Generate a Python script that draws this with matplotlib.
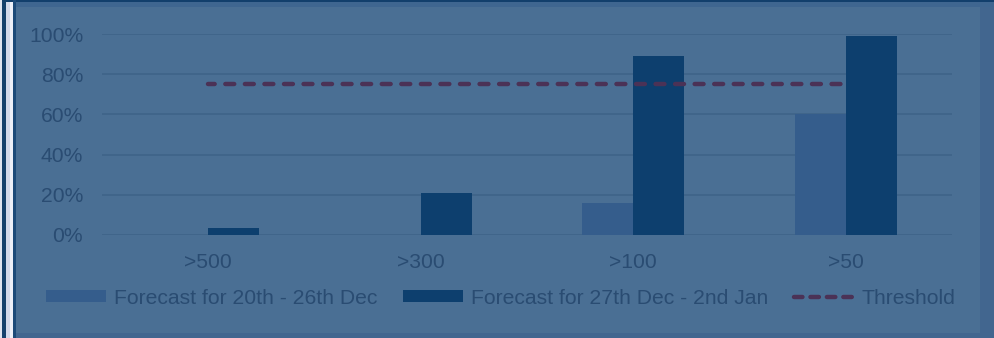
import matplotlib
matplotlib.use('Agg')
import matplotlib.pyplot as plt
from matplotlib.patches import Rectangle, Patch
from matplotlib.lines import Line2D
import numpy as np

# Data
categories = ['>500', '>300', '>100', '>50']
forecast_20_26_dec = [0, 0, 16, 60]
forecast_27_dec_2_jan = [3.5, 21, 89, 99]
threshold = [75, 75, 75, 75]
series_labels = ['Forecast for 20th - 26th Dec', 'Forecast for 27th Dec - 2nd Jan', 'Threshold']

# Colours
bg = '#4a6f94'
light_bar = '#355d8c'
dark_bar = '#0d3f6e'
grid_col = '#3f6489'
text_col = '#2a4c72'
thr_col = '#4b3256'

W, H = 995, 338
fig = plt.figure(figsize=(W / 100, H / 100), dpi=100)
fig.patch.set_facecolor(bg)
plt.rcParams['font.family'] = ['Liberation Sans', 'DejaVu Sans']
fs = 15.2


def px_rect(x0, y0, w, h, color):
    # rectangle in pixel coords measured from top-left
    fig.patches.append(Rectangle((x0 / W, 1 - (y0 + h) / H), w / W, h / H,
                                 transform=fig.transFigure, facecolor=color,
                                 edgecolor='none', zorder=-5))


# Frame decorations
px_rect(980, 0, 15, H, '#42668f')
px_rect(0, 333, W, 5, '#42668f')
px_rect(0, 0, W, 7, '#3f6690')
px_rect(0, 0, W, 2, '#123f6c')
px_rect(0, 0, 2, H, '#dfe3ef')
px_rect(2, 0, 4, H, '#15406c')
px_rect(6, 2, 4, H, '#d3d8ea')
px_rect(10, 2, 3, H, '#eef0f8')
px_rect(13, 0, 3, H, '#1d4a78')

ax = fig.add_axes([102 / W, 103 / H, 850 / W, 201 / H])
ax.set_facecolor('none')

x = np.arange(len(categories))
w = 0.24
ax.bar(x - w / 2, forecast_20_26_dec, width=w, color=light_bar, zorder=2)
ax.bar(x + w / 2, forecast_27_dec_2_jan, width=w, color=dark_bar, zorder=2)
thr_style = (0.5, (2.0, 2.4))
ax.plot(x, threshold, color=thr_col, linewidth=3.2, linestyle=thr_style,
        dash_capstyle='round', zorder=3)

ax.set_xlim(-0.5, len(categories) - 0.5)
ax.set_ylim(0, 100)
ax.set_yticks(np.arange(0, 101, 20))
ax.yaxis.set_major_formatter(plt.FuncFormatter(lambda v, p: f'{int(v)}%'))
ax.set_xticks(x)
ax.set_xticklabels(categories)
ax.tick_params(axis='both', length=0, labelsize=fs, colors=text_col)
ax.tick_params(axis='y', pad=13.5)
ax.tick_params(axis='x', pad=12.8)
ax.grid(axis='y', color=grid_col, linewidth=1.3)
ax.set_axisbelow(True)
for s in ax.spines.values():
    s.set_visible(False)

handles = [Patch(facecolor=light_bar, edgecolor='none'),
           Patch(facecolor=dark_bar, edgecolor='none'),
           Line2D([0], [0], color=thr_col, linewidth=3.2, linestyle=(0, (1.9, 1.8)),
                  dash_capstyle='round')]
fig.legend(handles, series_labels, loc='center', bbox_to_anchor=(501 / W, 1 - 298 / H),
           ncol=3, frameon=False, fontsize=fs, labelcolor=text_col,
           handlelength=2.84, handleheight=0.47, handletextpad=0.38, columnspacing=1.2,
           borderpad=0, borderaxespad=0)

fig.savefig('out.png', dpi=100, facecolor=fig.get_facecolor())
